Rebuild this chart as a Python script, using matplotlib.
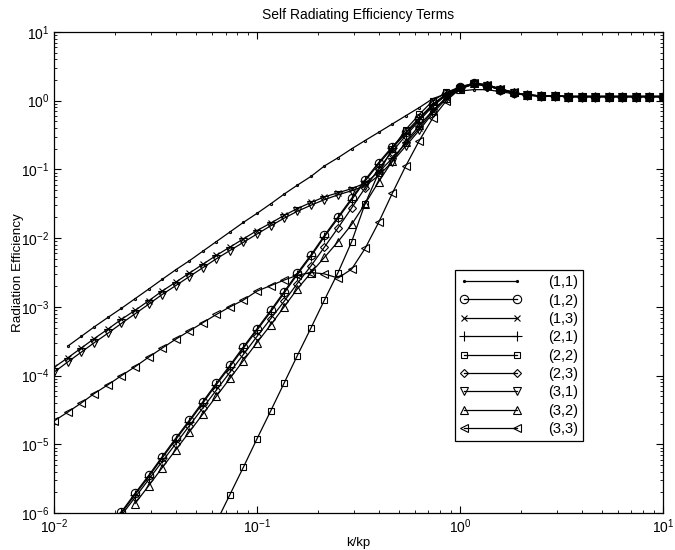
import numpy as np
import matplotlib
matplotlib.use('Agg')
import matplotlib.pyplot as plt

# normalised wavenumber k/kp at which every mode was evaluated
kkp = [0.0100, 0.0117, 0.0136, 0.0158, 0.0185, 0.0215, 0.0251, 0.0293, 0.0341, 0.0398,
       0.0464, 0.0541, 0.0631, 0.0736, 0.0858, 0.100, 0.117, 0.136, 0.158, 0.185,
       0.215, 0.251, 0.293, 0.341, 0.398, 0.464, 0.541, 0.631, 0.736, 0.858,
       1.00, 1.17, 1.36, 1.58, 1.85, 2.15, 2.51, 2.93, 3.41, 3.98,
       4.64, 5.41, 6.31, 7.36, 8.58, 10.0]

N = None
# log10 of the self radiation efficiency for each (m,n) mode
tail = [0.08, 0.07, 0.065, 0.06, 0.06, 0.06, 0.06, 0.06, 0.06, 0.06, 0.06]

sig_11 = [N, -3.57, -3.43, -3.29, -3.15, -3.02, -2.88, -2.74, -2.60, -2.46,
          -2.33, -2.19, -2.05, -1.91, -1.77, -1.64, -1.50, -1.36, -1.23, -1.10,
          -0.95, -0.83, -0.70, -0.58, -0.46, -0.34, -0.22, -0.10, 0.03, 0.10,
          0.14, 0.16, 0.16, 0.13, 0.10] + tail
sig_12 = [N, N, N, N, -6.25, -5.98, -5.71, -5.45, -5.18, -4.91,
          -4.65, -4.38, -4.11, -3.85, -3.58, -3.32, -3.05, -2.78, -2.51, -2.24,
          -1.96, -1.69, -1.42, -1.15, -0.90, -0.67, -0.46, -0.25, -0.05, 0.10,
          0.20, 0.25, 0.22, 0.16, 0.11] + tail
sig_13 = [-3.88, -3.74, -3.60, -3.46, -3.32, -3.18, -3.05, -2.91, -2.77, -2.64,
          -2.51, -2.38, -2.25, -2.13, -2.01, -1.89, -1.78, -1.67, -1.57, -1.48,
          -1.40, -1.34, -1.28, -1.20, -1.04, -0.84, -0.62, -0.40, -0.15, 0.05,
          0.18, 0.24, 0.22, 0.16, 0.11] + tail
sig_21 = [N, N, N, N, -6.27, -6.00, -5.73, -5.47, -5.20, -4.93,
          -4.67, -4.40, -4.13, -3.87, -3.60, -3.34, -3.07, -2.80, -2.53, -2.26,
          -1.98, -1.71, -1.44, -1.17, -0.92, -0.69, -0.48, -0.27, -0.06, 0.09,
          0.19, 0.24, 0.22, 0.16, 0.11] + tail
sig_22 = [N, N, N, N, N, N, N, N, N, N,
          N, N, -6.13, -5.73, -5.33, -4.92, -4.51, -4.11, -3.71, -3.30,
          -2.90, -2.50, -2.05, -1.50, -1.05, -0.70, -0.42, -0.20, 0.00, 0.12,
          0.20, 0.25, 0.23, 0.17, 0.12] + tail
sig_23 = [N, N, N, N, -6.29, -6.03, -5.77, -5.51, -5.25, -4.99,
          -4.73, -4.47, -4.21, -3.95, -3.69, -3.43, -3.17, -2.92, -2.66, -2.40,
          -2.13, -1.85, -1.56, -1.27, -0.99, -0.74, -0.51, -0.29, -0.08, 0.08,
          0.19, 0.25, 0.23, 0.17, 0.11] + tail
sig_31 = [-3.95, -3.80, -3.66, -3.52, -3.38, -3.24, -3.10, -2.96, -2.82, -2.69,
          -2.56, -2.43, -2.30, -2.18, -2.06, -1.94, -1.82, -1.71, -1.61, -1.52,
          -1.44, -1.37, -1.31, -1.24, -1.09, -0.89, -0.66, -0.43, -0.18, 0.03,
          0.17, 0.24, 0.22, 0.16, 0.11] + tail
sig_32 = [N, N, N, N, N, N, -5.86, -5.60, -5.34, -5.08,
          -4.82, -4.56, -4.30, -4.04, -3.78, -3.52, -3.26, -3.00, -2.74, -2.50,
          -2.28, -2.05, -1.80, -1.50, -1.18, -0.88, -0.60, -0.36, -0.14, 0.04,
          0.17, 0.25, 0.23, 0.17, 0.12] + tail
sig_33 = [-4.66, -4.53, -4.40, -4.26, -4.13, -4.00, -3.87, -3.73, -3.60, -3.47,
          -3.35, -3.23, -3.11, -3.00, -2.90, -2.77, -2.69, -2.61, -2.54, -2.50,
          -2.52, -2.58, -2.45, -2.15, -1.77, -1.35, -0.95, -0.58, -0.25, 0.00,
          0.17, 0.25, 0.23, 0.17, 0.12] + tail

modes = ['(1,1)', '(1,2)', '(1,3)', '(2,1)', '(2,2)', '(2,3)', '(3,1)', '(3,2)', '(3,3)']
series = [sig_11, sig_12, sig_13, sig_21, sig_22, sig_23, sig_31, sig_32, sig_33]
markers = ['.', 'o', 'x', '+', 's', 'D', 'v', '^', '<']
msizes = [3, 6, 5, 7, 5, 4.5, 6, 6, 6]

plt.rcParams['font.family'] = ['Liberation Sans', 'DejaVu Sans']
plt.rcParams['mathtext.fontset'] = 'custom'
plt.rcParams['mathtext.rm'] = 'Liberation Sans'
plt.rcParams['mathtext.it'] = 'Liberation Sans'

fig = plt.figure(figsize=(6.75, 5.5), dpi=100)
ax = fig.add_axes([0.08, 0.067, 0.902, 0.875])

x = np.array(kkp)
for name, vals, mk, ms in zip(modes, series, markers, msizes):
    y = np.array([np.nan if v is None else 10.0 ** v for v in vals])
    ax.plot(x, y, color='black', lw=0.9, marker=mk, ms=ms,
            mfc='none', mec='black', mew=0.8, label=name)

ax.set_xscale('log')
ax.set_yscale('log')
ax.set_xlim(1e-2, 10)
ax.set_ylim(1e-6, 10)

ax.tick_params(which='both', direction='in', top=True, right=True,
               labelsize=10, colors='black')
ax.tick_params(which='major', length=5, width=0.8)
ax.tick_params(which='minor', length=2.5, width=0.6)
ax.tick_params(axis='x', which='major', pad=3)
for sp in ax.spines.values():
    sp.set_linewidth(0.9)

ax.set_title('Self Radiating Efficiency Terms', fontsize=10, pad=9)
ax.set_xlabel('k/kp', fontsize=9.5, labelpad=1)
ax.set_ylabel('Radiation Efficiency', fontsize=9.7, labelpad=-2)

# legend handles show the marker at both ends of the sample line
leg = ax.legend(loc='upper left', bbox_to_anchor=(0.658, 0.505), numpoints=2,
                handlelength=4.25, handletextpad=1.8, labelspacing=0.3,
                fontsize=10.5, fancybox=False, framealpha=1, borderpad=0.35,
                borderaxespad=0)
leg.get_frame().set_edgecolor('black')
leg.get_frame().set_linewidth(0.9)

fig.savefig('out.png', dpi=100)
